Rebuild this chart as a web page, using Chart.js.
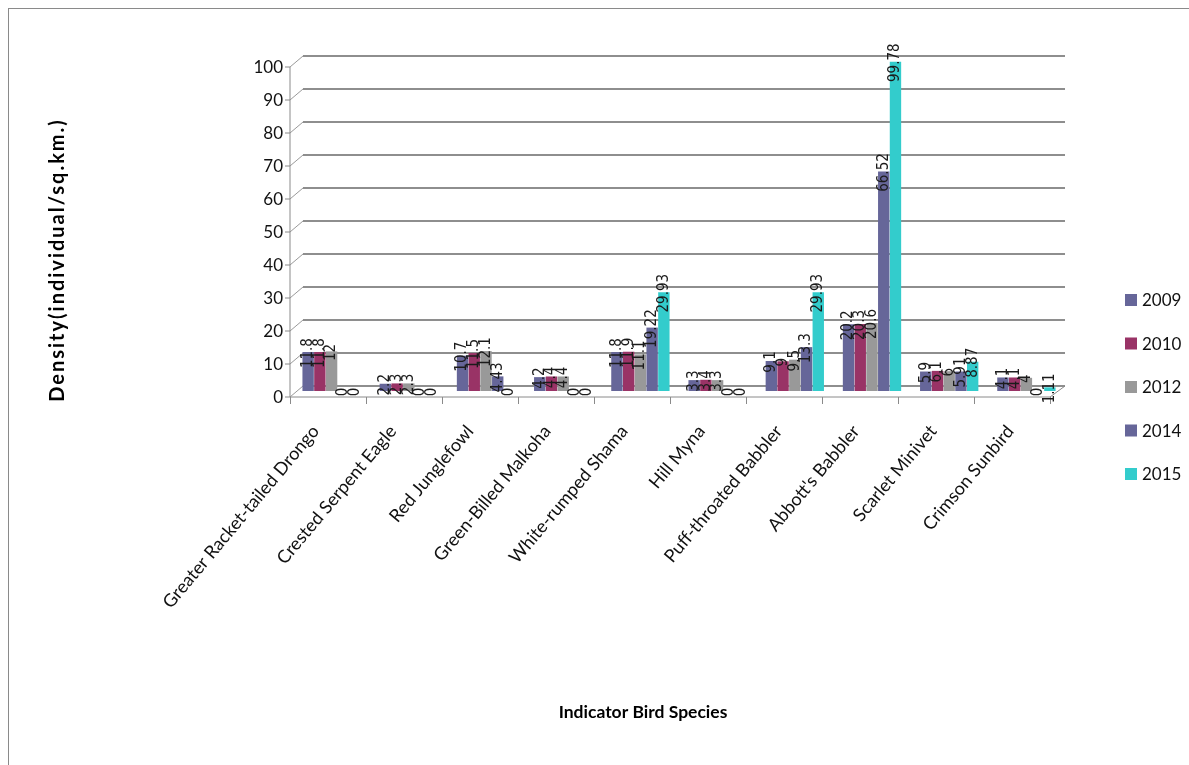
<!DOCTYPE html>
<html>
<head>
<meta charset="utf-8">
<title>Indicator Bird Species Density</title>
<script src="https://cdn.jsdelivr.net/npm/chart.js@4/dist/chart.umd.min.js"></script>
<style>
  html, body { margin: 0; padding: 0; background: #ffffff; }
  #wrap { width: 1189px; height: 765px; position: relative; }
</style>
</head>
<body>
<div id="wrap"><canvas id="chart"></canvas></div>
<script>
// Survey categories and yearly densities (individuals per sq. km)
const species = [
  'Greater Racket-tailed Drongo', 'Crested Serpent Eagle', 'Red Junglefowl',
  'Green-Billed Malkoha', 'White-rumped Shama', 'Hill Myna',
  'Puff-throated Babbler', "Abbott's Babbler", 'Scarlet Minivet', 'Crimson Sunbird'
];
const years = ['2009', '2010', '2012', '2014', '2015'];
const density2009 = [11.8, 2.2, 10.7, 4.2, 11.8, 3.3, 9.1, 20.2, 5.9, 4.1];
const density2010 = [11.8, 2.3, 11.5, 4.4, 11.9, 3.4, 9, 20.3, 6.1, 4.1];
const density2012 = [12, 2.3, 12.1, 4.4, 11.1, 3.3, 9.5, 20.6, 6, 4];
const density2014 = [0, 0, 4.43, 0, 19.22, 0, 13.3, 66.52, 5.91, 0];
const density2015 = [0, 0, 0, 0, 29.93, 0, 29.93, 99.78, 8.87, 1.11];
const yTicks = [0, 10, 20, 30, 40, 50, 60, 70, 80, 90, 100];

const seriesColors = ['#666699', '#993366', '#999999', '#666699', '#33CCCC'];
const seriesValues = [density2009, density2010, density2012, density2014, density2015];

const UI_FONT = "Lato, 'Open Sans', 'Liberation Sans', sans-serif";
const LABEL_FONT = "'Liberation Sans Narrow', 'DejaVu Sans Condensed', 'Liberation Sans', sans-serif";

// Frame, 3D-style back wall grid, floor and front axis
const framePlugin = {
  id: 'frame',
  beforeDraw(chart) {
    const ctx = chart.ctx;
    ctx.save();
    ctx.fillStyle = '#ffffff';
    ctx.fillRect(0, 0, chart.width, chart.height);
    ctx.strokeStyle = '#8a8a8a';
    ctx.lineWidth = 1;
    ctx.strokeRect(8.5, 8.5, chart.width + 20, chart.height + 20);
    ctx.restore();
  },
  beforeDatasetsDraw(chart) {
    const { ctx, chartArea } = chart;
    const y = chart.scales.y;
    const depth = 10;
    const frontX = chartArea.left - 3;
    const backX = chartArea.left + depth;
    ctx.save();
    // back wall gridlines + diagonal connectors to the front axis
    yTicks.forEach(v => {
      const p = y.getPixelForValue(v);
      ctx.strokeStyle = '#8e8e8e';
      ctx.lineWidth = 2;
      ctx.beginPath();
      ctx.moveTo(backX, p - 5);
      ctx.lineTo(chartArea.right, p - 5);
      ctx.stroke();
      ctx.lineWidth = 1;
      ctx.strokeStyle = '#9a9a9a';
      ctx.beginPath();
      ctx.moveTo(frontX, p + 6);
      ctx.lineTo(backX, p - 5);
      ctx.stroke();
      // front tick mark
      ctx.strokeStyle = '#8a8a8a';
      ctx.beginPath();
      ctx.moveTo(frontX - 5, p + 6);
      ctx.lineTo(frontX, p + 6);
      ctx.stroke();
    });
    // front vertical axis
    const p0 = y.getPixelForValue(0);
    const p100 = y.getPixelForValue(100);
    ctx.strokeStyle = '#8a8a8a';
    ctx.lineWidth = 1;
    ctx.beginPath();
    ctx.moveTo(frontX, p0 + 6);
    ctx.lineTo(frontX, p100 + 6);
    ctx.stroke();
    // floor: front edge, right diagonal
    const frontRight = chartArea.right - 15;
    ctx.beginPath();
    ctx.moveTo(frontX, p0 + 6);
    ctx.lineTo(frontRight, p0 + 6);
    ctx.lineTo(chartArea.right, p0 - 5);
    ctx.stroke();
    // category boundary ticks on the front floor edge
    const n = species.length;
    for (let i = 0; i <= n; i++) {
      const tx = frontX + (frontRight - frontX) * i / n;
      ctx.beginPath();
      ctx.moveTo(Math.round(tx) + 0.5, p0 + 6);
      ctx.lineTo(Math.round(tx) + 0.5, p0 + 13);
      ctx.stroke();
    }
    ctx.restore();
  },
  afterDatasetsDraw(chart) {
    const ctx = chart.ctx;
    ctx.save();
    ctx.fillStyle = '#1b1b1b';
    ctx.font = '15px ' + LABEL_FONT;
    ctx.textAlign = 'center';
    ctx.textBaseline = 'middle';
    chart.data.datasets.forEach((ds, di) => {
      const meta = chart.getDatasetMeta(di);
      meta.data.forEach((bar, i) => {
        const text = String(ds.data[i]);
        ctx.save();
        ctx.translate(bar.x, bar.y + 1);
        ctx.rotate(-Math.PI / 2);
        ctx.fillText(text, 0, 0);
        ctx.restore();
      });
    });
    // legend
    const lx = 1125, ly0 = 300, step = 43.5;
    ctx.textAlign = 'left';
    ctx.textBaseline = 'middle';
    ctx.font = '17px ' + UI_FONT;
    years.forEach((yr, i) => {
      const cy = ly0 + i * step;
      ctx.fillStyle = seriesColors[i];
      ctx.fillRect(lx, cy - 6, 12, 12);
      ctx.fillStyle = '#111111';
      ctx.fillText(yr, lx + 17, cy + 1);
    });
    // axis titles
    ctx.fillStyle = '#000000';
    ctx.font = 'bold 17.5px ' + UI_FONT;
    ctx.textAlign = 'center';
    ctx.fillText('Indicator Bird Species', 643, 712);
    ctx.save();
    ctx.translate(58, 260);
    ctx.rotate(-Math.PI / 2);
    ctx.font = 'bold 20px ' + UI_FONT;
    if ('letterSpacing' in ctx) ctx.letterSpacing = '2px';
    ctx.fillText('Density(individual/sq.km.)', 0, 0);
    ctx.restore();
    ctx.restore();
  }
};

const chart = new Chart(document.getElementById('chart'), {
  type: 'bar',
  data: {
    labels: species,
    datasets: years.map((yr, i) => ({
      label: yr,
      data: seriesValues[i],
      backgroundColor: seriesColors[i],
      borderWidth: 0,
      categoryPercentage: 0.76,
      barPercentage: 0.97
    }))
  },
  options: {
    responsive: true,
    maintainAspectRatio: false,
    animation: false,
    layout: { padding: { top: 61, right: 124, left: 0, bottom: 0 } },
    plugins: {
      legend: { display: false },
      tooltip: { enabled: false },
      title: { display: false }
    },
    scales: {
      x: {
        grid: { display: false },
        border: { display: false },
        ticks: {
          color: '#111111',
          font: { family: UI_FONT, size: 18 },
          minRotation: 50,
          maxRotation: 50,
          padding: 22,
          labelOffset: -16,
          autoSkip: false
        },
        afterFit(scale) { scale.height = 374; }
      },
      y: {
        min: 0,
        max: 100,
        afterBuildTicks(scale) { scale.ticks = yTicks.map(v => ({ value: v })); },
        grid: { display: false },
        border: { display: false },
        ticks: {
          color: '#111111',
          font: { family: UI_FONT, size: 17 },
          padding: 2,
          labelOffset: 7
        },
        afterFit(scale) { scale.width = 293; }
      }
    }
  },
  plugins: [framePlugin]
});
</script>
</body>
</html>
